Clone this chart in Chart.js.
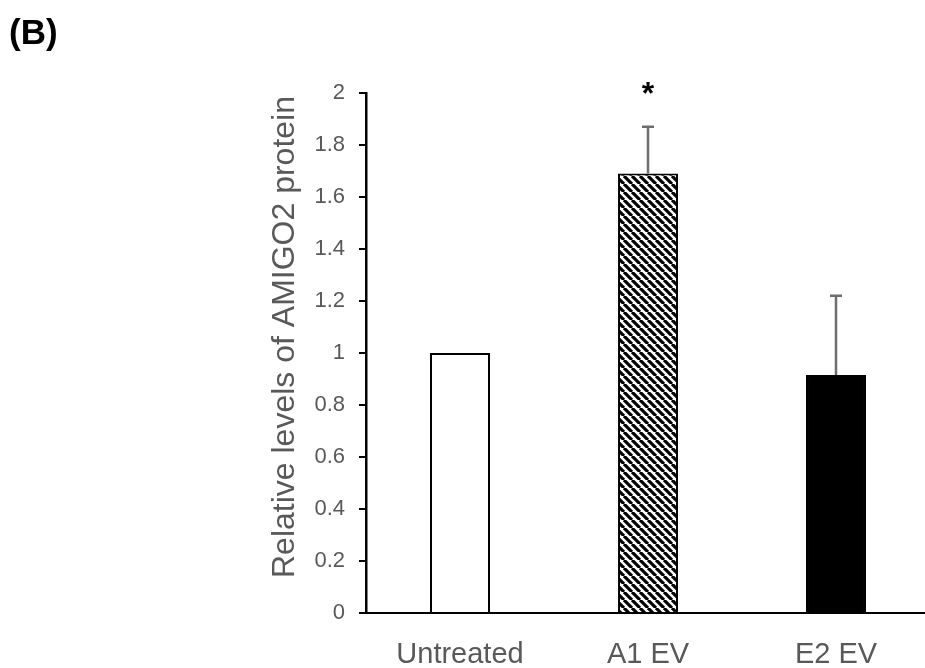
<!DOCTYPE html>
<html>
<head>
<meta charset="utf-8">
<script src="https://cdn.jsdelivr.net/npm/chart.js@4"></script>
<style>
  html, body { margin: 0; padding: 0; background: #fff; overflow: hidden; }
  #wrap { position: absolute; left: 0; top: 0; width: 940px; height: 668px; }
</style>
</head>
<body>
<div id="wrap"><canvas id="c" width="940" height="668"></canvas></div>
<script>
// Niveaux relatifs de la proteine AMIGO2 (panneau B)
const categories = ["Untreated", "A1 EV", "E2 EV"];
const meanValues = [1.0, 1.69, 0.915];
const errorValues = [0, 0.18, 0.305];
const significance = ["", "*", ""];
const yMin = 0, yMax = 2, yStep = 0.2;

const FONT = "'Liberation Sans', Arial, sans-serif";
const GREY = "#595959";

// motif hachure (\\\\) pour A1 EV
function hatchPattern() {
  const n = 8;
  const t = document.createElement("canvas");
  t.width = n; t.height = n;
  const g = t.getContext("2d");
  g.fillStyle = "#fff";
  g.fillRect(0, 0, n, n);
  g.strokeStyle = "#000";
  g.lineWidth = 3.2;
  g.beginPath();
  [-n, 0, n].forEach(o => { g.moveTo(o, 0); g.lineTo(o + n, n); });
  g.stroke();
  return g.createPattern(t, "repeat");
}

const ctx = document.getElementById("c").getContext("2d");
const fills = ["#ffffff", hatchPattern(), "#000000"];

const errorBars = {
  id: "errorBars",
  afterDatasetsDraw(chart) {
    const c = chart.ctx, y = chart.scales.y;
    const meta = chart.getDatasetMeta(0);
    c.save();
    c.strokeStyle = "#6e6e6e";
    c.lineWidth = 2.5;
    meta.data.forEach((bar, i) => {
      if (!errorValues[i]) return;
      const y0 = y.getPixelForValue(meanValues[i]);
      const y1 = y.getPixelForValue(meanValues[i] + errorValues[i]);
      c.beginPath();
      c.moveTo(bar.x, y0); c.lineTo(bar.x, y1);
      c.moveTo(bar.x - 6, y1); c.lineTo(bar.x + 6, y1);
      c.stroke();
    });
    c.fillStyle = "#000";
    c.font = "bold 32px " + FONT;
    c.textAlign = "center";
    c.textBaseline = "alphabetic";
    meta.data.forEach((bar, i) => {
      if (!significance[i]) return;
      const y1 = y.getPixelForValue(meanValues[i] + errorValues[i]);
      c.fillText(significance[i], bar.x, y1 - 23);
    });
    c.restore();
  },
  afterDraw(chart) {
    const c = chart.ctx;
    c.save();
    // titre axe Y
    c.translate(294, 337);
    c.rotate(-Math.PI / 2);
    c.fillStyle = GREY;
    c.font = "32px " + FONT;
    c.textAlign = "center";
    c.textBaseline = "alphabetic";
    c.fillText("Relative levels of AMIGO2 protein", 0, 0);
    c.restore();
    // etiquette du panneau
    c.save();
    c.fillStyle = "#000";
    c.font = "bold 35px " + FONT;
    c.textAlign = "left";
    c.textBaseline = "alphabetic";
    c.fillText("(B)", 9, 44);
    c.restore();
  }
};

new Chart(ctx, {
  type: "bar",
  data: {
    labels: categories,
    datasets: [{
      data: meanValues,
      backgroundColor: fills,
      borderColor: "#000",
      borderWidth: 2,
      barPercentage: 0.319,
      categoryPercentage: 1,
    }],
  },
  options: {
    responsive: false,
    animation: false,
    layout: { padding: { left: 0, top: 93, right: 10, bottom: 0 } },
    plugins: { legend: { display: false }, tooltip: { enabled: false } },
    scales: {
      x: {
        afterFit: s => { s.height = 55; },
        grid: { display: false },
        border: { display: true, color: "#000", width: 2 },
        ticks: { color: GREY, font: { family: FONT, size: 29 }, padding: 17 },
      },
      y: {
        min: yMin, max: yMax,
        afterFit: s => { s.width = 366; },
        grid: { display: true, drawOnChartArea: false, drawTicks: true, tickLength: 7, color: "#000", lineWidth: 2 },
        border: { display: true, color: "#000", width: 2.5 },
        ticks: {
          stepSize: yStep, padding: 14, color: GREY,
          font: { family: FONT, size: 22 },
          callback: v => String(Math.round(v * 10) / 10),
        },
      },
    },
  },
  plugins: [errorBars],
});
</script>
</body>
</html>
